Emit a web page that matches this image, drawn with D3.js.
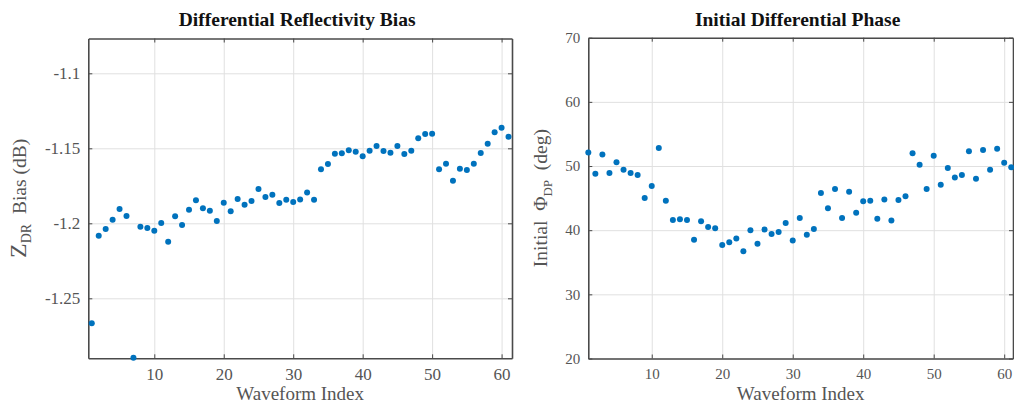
<!DOCTYPE html>
<html>
<head>
<meta charset="utf-8">
<script src="https://cdn.jsdelivr.net/npm/d3@7"></script>
<style>
  body { margin: 0; background: #fff; }
  svg { display: block; }
  .tick text { font-family: "Liberation Serif", "Times New Roman", serif; }
</style>
</head>
<body>
<svg id="chart" width="1014" height="406"></svg>
<script>
// waveform index on both panels
const waveformIndex = [1, 2, 3, 4, 5, 6, 7, 8, 9, 10, 11, 12, 13, 14, 15, 16, 17, 18, 19, 20,
    21, 22, 23, 24, 25, 26, 27, 28, 29, 30, 31, 32, 33, 34, 35, 36, 37, 38, 39, 40,
    41, 42, 43, 44, 45, 46, 47, 48, 49, 50, 51, 52, 53, 54, 55, 56, 57, 58, 59, 60, 61];

// ZDR bias (dB)
const zdrBias = [-1.2667, -1.2083, -1.2038, -1.1976, -1.1905, -1.1951, -1.2896, -1.2023, -1.2031, -1.2049,
    -1.1998, -1.2123, -1.1953, -1.2011, -1.1909, -1.1847, -1.1900, -1.1916, -1.1985, -1.1863,
    -1.1920, -1.1838, -1.1876, -1.1851, -1.1771, -1.1825, -1.1809, -1.1865, -1.1843, -1.1858,
    -1.1842, -1.1795, -1.1843, -1.1640, -1.1605, -1.1536, -1.1533, -1.1513, -1.1523, -1.1553,
    -1.1516, -1.1485, -1.1518, -1.1529, -1.1485, -1.1538, -1.1516, -1.1433, -1.1405, -1.1403,
    -1.1640, -1.1603, -1.1716, -1.1636, -1.1645, -1.1603, -1.1531, -1.1469, -1.1393, -1.1363, -1.1423];

// initial PhiDP (deg)
const phiDp = [52.1, 48.8, 51.8, 48.9, 50.6, 49.4, 48.9, 48.6, 45.0, 46.9,
    52.8, 44.6, 41.6, 41.7, 41.6, 38.5, 41.4, 40.5, 40.3, 37.7,
    38.1, 38.7, 36.7, 40.0, 37.9, 40.1, 39.4, 39.7, 41.1, 38.4,
    41.9, 39.3, 40.2, 45.8, 43.4, 46.4, 41.9, 46.0, 42.7, 44.5,
    44.6, 41.8, 44.8, 41.5, 44.7, 45.3, 52.0, 50.2, 46.4, 51.6,
    47.1, 49.7, 48.2, 48.6, 52.3, 48.0, 52.5, 49.4, 52.7, 50.5, 49.8];

const xTicks = [10, 20, 30, 40, 50, 60];
const zdrTicks = [-1.25, -1.2, -1.15, -1.1];
const zdrTickLabels = ['-1.25', '-1.2', '-1.15', '-1.1'];
const phiTicks = [20, 30, 40, 50, 60, 70];

const svg = d3.select('#chart');
const DOT = '#0072BD';
const AXIS = '#4a4a4a';
const GRID = '#e0e0e0';

function drawPanel(p) {
    const x = d3.scaleLinear().domain(p.xDomain).range([p.left, p.right]);
    const y = d3.scaleLinear().domain(p.yDomain).range([p.bottom, p.top]);
    const w = p.right - p.left, h = p.bottom - p.top;
    const g = svg.append('g');

    // grid
    g.append('g')
        .attr('transform', `translate(0,${p.bottom})`)
        .call(d3.axisBottom(x).tickValues(xTicks).tickSize(-h).tickFormat(''))
        .call(s => s.select('.domain').remove())
        .call(s => s.selectAll('line').attr('stroke', GRID));
    g.append('g')
        .attr('transform', `translate(${p.left},0)`)
        .call(d3.axisLeft(y).tickValues(p.yTicks).tickSize(-w).tickFormat(''))
        .call(s => s.select('.domain').remove())
        .call(s => s.selectAll('line').attr('stroke', GRID));

    // box with inward ticks on every side
    const bottomAxis = g.append('g')
        .attr('transform', `translate(0,${p.bottom})`)
        .call(d3.axisBottom(x).tickValues(xTicks).tickSizeInner(-4).tickSizeOuter(0).tickPadding(10));
    g.append('g')
        .attr('transform', `translate(0,${p.top})`)
        .call(d3.axisTop(x).tickValues(xTicks).tickSizeInner(-4).tickSizeOuter(0).tickFormat(''));
    const leftAxis = g.append('g')
        .attr('transform', `translate(${p.left},0)`)
        .call(d3.axisLeft(y).tickValues(p.yTicks).tickSizeInner(-4).tickSizeOuter(0)
            .tickPadding(8).tickFormat((d, i) => p.yLabels[i]));
    g.append('g')
        .attr('transform', `translate(${p.right},0)`)
        .call(d3.axisRight(y).tickValues(p.yTicks).tickSizeInner(-4).tickSizeOuter(0).tickFormat(''));

    g.selectAll('.domain').attr('stroke', AXIS).attr('stroke-width', 1.6);
    g.selectAll('.tick line').filter(function () { return this.getAttribute('stroke') !== GRID; })
        .attr('stroke', AXIS);
    [bottomAxis, leftAxis].forEach(a => a.selectAll('text')
        .attr('font-family', p.tickFont)
        .attr('font-size', p.tickSize)
        .attr('fill', '#555'));

    // points
    g.append('g').selectAll('circle')
        .data(waveformIndex)
        .join('circle')
        .attr('cx', d => x(d))
        .attr('cy', (d, i) => y(p.values[i]))
        .attr('r', 3)
        .attr('fill', DOT);

    // title
    g.append('text')
        .attr('x', (p.left + p.right) / 2 - 3)
        .attr('y', 26)
        .attr('text-anchor', 'middle')
        .attr('font-family', '"Liberation Serif", serif')
        .attr('font-weight', 'bold')
        .attr('font-size', 19.5)
        .attr('fill', '#111')
        .text(p.title);

    // x label
    g.append('text')
        .attr('x', (p.left + p.right) / 2)
        .attr('y', 400)
        .attr('text-anchor', 'middle')
        .attr('font-family', '"Liberation Serif", serif')
        .attr('font-size', 19)
        .attr('fill', '#555')
        .text('Waveform Index');

    // y label with subscript
    const yl = g.append('text')
        .attr('transform', `translate(${p.yLabelX},${(p.top + p.bottom) / 2}) rotate(-90)`)
        .attr('text-anchor', 'middle')
        .attr('font-family', '"Liberation Serif", serif')
        .attr('font-size', 19.5)
        .attr('fill', '#555');
    p.yLabel.forEach(part => {
        const t = yl.append('tspan').text(part.text);
        if (part.size) t.attr('font-size', part.size);
        if (part.dy) t.attr('dy', part.dy);
    });
}

drawPanel({
    left: 88.3, right: 512, top: 38.5, bottom: 358.3,
    xDomain: [0.5, 61.5], yDomain: [-1.29, -1.0768],
    yTicks: zdrTicks, yLabels: zdrTickLabels,
    values: zdrBias,
    tickFont: '"Liberation Serif", serif', tickSize: 17,
    title: 'Differential Reflectivity Bias',
    yLabelX: 26,
    yLabel: [
        { text: 'Z', size: 24 },
        { text: 'DR', size: 14, dy: 5 },
        { text: '\u2002Bias (dB)', dy: -5 }
    ]
});

drawPanel({
    left: 588.3, right: 1013, top: 37.7, bottom: 358.5,
    xDomain: [1, 61.25], yDomain: [20, 70],
    yTicks: phiTicks, yLabels: phiTicks.map(String),
    values: phiDp,
    tickFont: '"Open Sans", sans-serif', tickSize: 15,
    title: 'Initial Differential Phase',
    yLabelX: 547,
    yLabel: [
        { text: 'Initial\u2002\u03A6' },
        { text: 'DP', size: 13, dy: 5 },
        { text: '\u2002(deg)', dy: -5 }
    ]
});
</script>
</body>
</html>
